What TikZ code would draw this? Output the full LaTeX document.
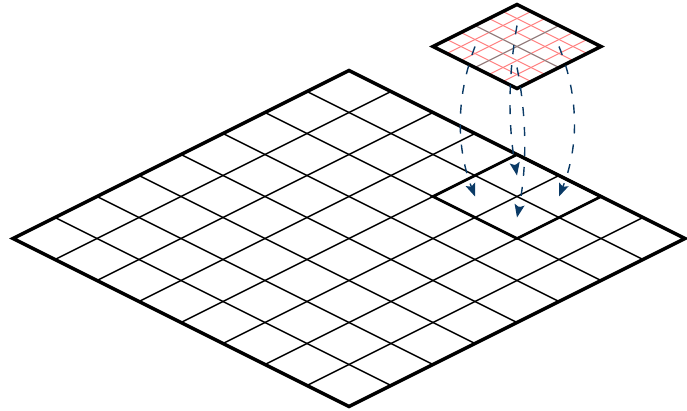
\documentclass[tikz,border=0pt]{standalone}
\usetikzlibrary{arrows.meta}
\definecolor{finered}{RGB}{255,128,128}
\definecolor{coarsegray}{RGB}{150,128,128}
\definecolor{flowblue}{RGB}{10,58,102}
\tikzset{
  thinline/.style={line width=1.4pt, black},
  border/.style={line width=3.4pt, black, line join=miter},
  blockline/.style={line width=2.7pt, black, line join=miter},
  redline/.style={line width=1.1pt, finered},
  grayline/.style={line width=1.3pt, coarsegray},
  flow/.style={line width=1.4pt, flowblue, dash pattern=on 9pt off 11pt,
    -{Stealth[length=13pt,width=10pt,inset=2.5pt]}}
}
\begin{document}
\begin{tikzpicture}[x=1pt,y=-1pt]
\useasboundingbox (0,0) rectangle (687,410);
% big grid corners
\coordinate (T) at (349,70.5);
\coordinate (R) at (685,238.5);
\coordinate (B) at (349,406.5);
\coordinate (L) at (13,238.5);
\foreach \i in {1,...,7} {
  \draw[thinline] ({349+42*\i},{70.5+21*\i}) -- ({349+42*\i-336},{70.5+21*\i+168});
  \draw[thinline] ({349-42*\i},{70.5+21*\i}) -- ({349-42*\i+336},{70.5+21*\i+168});
}
\draw[border] (T) -- (R) -- (B) -- (L) -- cycle;
% highlighted block
\coordinate (bT) at (517,154.5);
\coordinate (bR) at (601,196.5);
\coordinate (bB) at (517,238.5);
\coordinate (bL) at (433,196.5);
\draw[blockline] (bT) -- (bR) -- (bB) -- (bL) -- cycle;
% small grid
\coordinate (sT) at (517,4.5);
\coordinate (sR) at (601,46.5);
\coordinate (sB) at (517,88.5);
\coordinate (sL) at (433,46.5);
\foreach \i in {1,2,4,5} {
  \draw[redline] ({517-14*\i},{4.5+7*\i}) -- ({517-14*\i+84},{4.5+7*\i+42});
  \draw[redline] ({517+14*\i},{4.5+7*\i}) -- ({517+14*\i-84},{4.5+7*\i+42});
}
\draw[grayline] (475,25.5) -- (559,67.5);
\draw[grayline] (559,25.5) -- (475,67.5);
\draw[border] (sT) -- (sR) -- (sB) -- (sL) -- cycle;
% arrow ends
\coordinate (s1) at (475,46.5);
\coordinate (e1) at (475,196.5);
\coordinate (s2) at (517,25.5);
\coordinate (e2) at (517,175.5);
\coordinate (s3) at (517,67.5);
\coordinate (e3) at (517,217.5);
\coordinate (s4) at (559,46.5);
\coordinate (e4) at (559,196.5);
\draw[flow] (s1) .. controls +(-19,50) and +(-19,-50) .. (e1);
\draw[flow] (s2) .. controls +(-9,50) and +(-9,-50) .. (e2);
\draw[flow] (s3) .. controls +(10,50) and +(10,-50) .. (e3);
\draw[flow] (s4) .. controls +(20,50) and +(20,-50) .. (e4);
\end{tikzpicture}
\end{document}
